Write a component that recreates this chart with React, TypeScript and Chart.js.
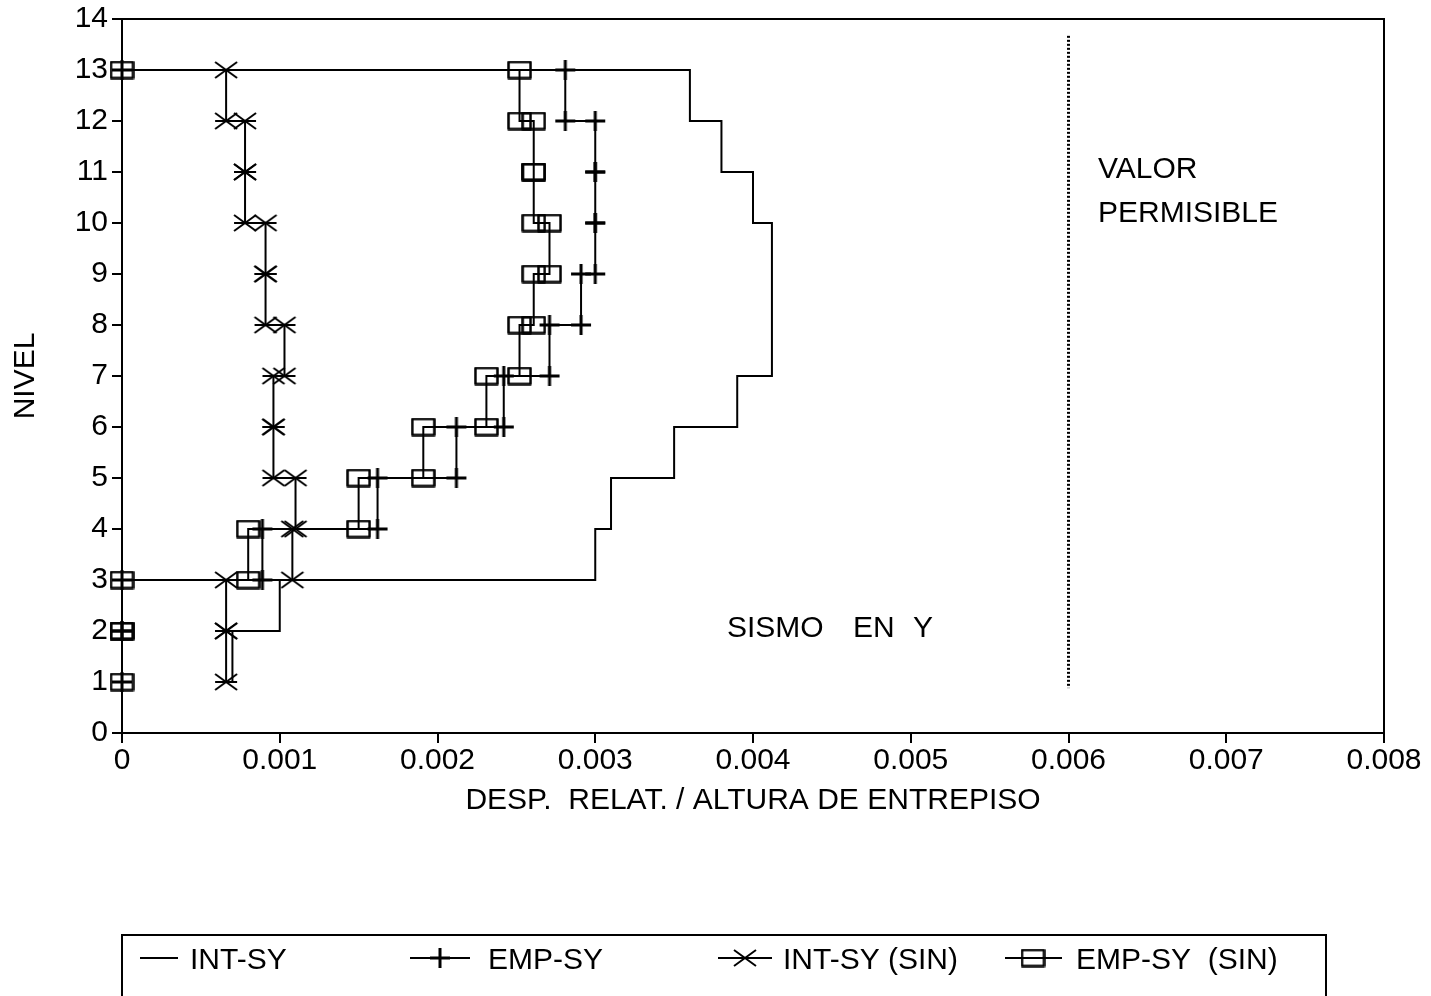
import React, { useEffect, useRef } from "react";
import { Chart, registerables } from "chart.js";

Chart.register(...registerables);

// Story top levels (each story spans from level to level - 1)
const storyLevels = [13, 12, 11, 10, 9, 8, 7, 6, 5, 4, 3, 2];

// Relative drift / story height, per story (top level listed in storyLevels)
const intSY = [0.0036, 0.0038, 0.004, 0.00412, 0.00412, 0.00412, 0.0039, 0.0035, 0.0031, 0.003, 0.001, 0.0007];
const empSY = [0.00281, 0.003, 0.003, 0.003, 0.00291, 0.00271, 0.00242, 0.00212, 0.00162, 0.00089, 0, 0];
const intSYSin = [0.00066, 0.00078, 0.00078, 0.00091, 0.00091, 0.00103, 0.00096, 0.00096, 0.0011, 0.00108, 0.00066, 0.00066];
const empSYSin = [0.00252, 0.00261, 0.00261, 0.00271, 0.00261, 0.00252, 0.00231, 0.00191, 0.0015, 0.0008, 0, 0];

const seriesNames = ["INT-SY", "EMP-SY", "INT-SY (SIN)", "EMP-SY  (SIN)"];

// Permissible value line
const permisibleX = [0.006, 0.006];
const permisibleY = [13.67, 0.88];

const xTickLabels = ["0", "0.001", "0.002", "0.003", "0.004", "0.005", "0.006", "0.007", "0.008"];
const yTickLabels = ["0", "1", "2", "3", "4", "5", "6", "7", "8", "9", "10", "11", "12", "13", "14"];

const xTitle = "DESP.  RELAT. / ALTURA DE ENTREPISO";
const yTitle = "NIVEL";

const FONT = "'Liberation Sans', Arial, Helvetica, sans-serif";

function stepPoints(drifts: number[], startAtZero: boolean) {
  const pts: { x: number; y: number }[] = [];
  if (startAtZero) pts.push({ x: 0, y: storyLevels[0] });
  drifts.forEach((d, i) => {
    pts.push({ x: d, y: storyLevels[i] });
    pts.push({ x: d, y: storyLevels[i] - 1 });
  });
  return pts;
}

function makeSquare() {
  const c = document.createElement("canvas");
  c.width = 25;
  c.height = 19;
  const g = c.getContext("2d")!;
  g.strokeStyle = "#000";
  g.lineWidth = 2.5;
  g.lineJoin = "round";
  g.strokeRect(1.5, 1.5, 22, 16);
  return c;
}

function makeStar() {
  const c = document.createElement("canvas");
  c.width = 26;
  c.height = 20;
  const g = c.getContext("2d")!;
  g.strokeStyle = "#000";
  g.lineWidth = 2;
  g.beginPath();
  g.moveTo(2, 2);
  g.lineTo(24, 18);
  g.moveTo(2, 18);
  g.lineTo(24, 2);
  g.moveTo(2, 10);
  g.lineTo(24, 10);
  g.stroke();
  return c;
}

function makePlus() {
  const c = document.createElement("canvas");
  c.width = 22;
  c.height = 22;
  const g = c.getContext("2d")!;
  g.strokeStyle = "#000";
  g.lineWidth = 3;
  g.beginPath();
  g.moveTo(11, 1);
  g.lineTo(11, 21);
  g.moveTo(1, 11);
  g.lineTo(21, 11);
  g.stroke();
  return c;
}

export default function App() {
  const ref = useRef<HTMLCanvasElement | null>(null);

  useEffect(() => {
    if (!ref.current) return;
    const square = makeSquare();
    const star = makeStar();
    const plus = makePlus();

    const decor = {
      id: "decor",
      afterDraw(chart: any) {
        const { ctx, chartArea } = chart;
        ctx.save();
        ctx.strokeStyle = "#000";
        ctx.lineWidth = 2;
        ctx.strokeRect(chartArea.left, chartArea.top, chartArea.right - chartArea.left, chartArea.bottom - chartArea.top);

        ctx.fillStyle = "#000";
        ctx.font = `30px ${FONT}`;
        ctx.textAlign = "left";
        ctx.textBaseline = "alphabetic";
        ctx.fillText("VALOR", 1098, 178);
        ctx.fillText("PERMISIBLE", 1098, 222);
        ctx.fillText("SISMO", 727, 637);
        ctx.fillText("EN", 853, 637);
        ctx.fillText("Y", 913, 637);

        // Legend box
        ctx.lineWidth = 2;
        ctx.strokeRect(122, 935, 1326 - 122, 120);
        const ly = 958;
        const items = [
          { x1: 140, x2: 178, m: null as any, mx: 0, tx: 190 },
          { x1: 410, x2: 470, m: plus, mx: 440, tx: 488 },
          { x1: 718, x2: 772, m: star, mx: 745, tx: 783 },
          { x1: 1005, x2: 1062, m: square, mx: 1033, tx: 1076 },
        ];
        items.forEach((it, i) => {
          ctx.lineWidth = 2;
          ctx.beginPath();
          ctx.moveTo(it.x1, ly);
          ctx.lineTo(it.x2, ly);
          ctx.stroke();
          if (it.m) ctx.drawImage(it.m, it.mx - it.m.width / 2, ly - it.m.height / 2);
          ctx.fillText(seriesNames[i], it.tx, ly + 11);
        });
        ctx.restore();
      },
    };

    const chart = new Chart(ref.current, {
      type: "line",
      data: {
        datasets: [
          {
            label: seriesNames[0],
            data: stepPoints(intSY, true),
            borderColor: "#000",
            borderWidth: 2,
            pointRadius: 0,
            fill: false,
            clip: 20,
          },
          {
            label: seriesNames[1],
            data: stepPoints(empSY, true),
            borderColor: "#000",
            borderWidth: 2,
            pointStyle: plus as any,
            pointRadius: 10,
            fill: false,
            clip: 20,
          },
          {
            label: seriesNames[2],
            data: stepPoints(intSYSin, false),
            borderColor: "#000",
            borderWidth: 2,
            pointStyle: star as any,
            pointRadius: 10,
            fill: false,
            clip: 20,
          },
          {
            label: seriesNames[3],
            data: stepPoints(empSYSin, true),
            borderColor: "#000",
            borderWidth: 2,
            pointStyle: square as any,
            pointRadius: 10,
            fill: false,
            clip: 20,
          },
          {
            label: "VALOR PERMISIBLE",
            data: permisibleX.map((x, i) => ({ x, y: permisibleY[i] })),
            borderColor: "#000",
            borderWidth: 3,
            borderDash: [2, 2],
            pointRadius: 0,
            fill: false,
          },
        ],
      },
      options: {
        animation: false,
        responsive: false,
        devicePixelRatio: 1,
        events: [],
        layout: { padding: { left: 0, top: 15, right: 47, bottom: 173 } },
        plugins: { legend: { display: false }, tooltip: { enabled: false } },
        scales: {
          x: {
            type: "linear",
            min: 0,
            max: 0.008,
            afterFit: (s: any) => {
              s.height = 90;
            },
            ticks: {
              stepSize: 0.001,
              color: "#000",
              padding: 3,
              maxRotation: 0,
              font: { family: FONT, size: 30, lineHeight: 1 },
              callback: (_v: any, i: number) => xTickLabels[i],
            },
            grid: { drawOnChartArea: false, drawTicks: true, tickLength: 10, color: "#000", lineWidth: 2 },
            border: { color: "#000", width: 2 },
            title: {
              display: true,
              text: xTitle,
              color: "#000",
              font: { family: FONT, size: 30, lineHeight: 1 },
              padding: { top: 0, bottom: 7 },
            },
          },
          y: {
            type: "linear",
            min: 0,
            max: 14,
            afterFit: (s: any) => {
              s.width = 122;
            },
            ticks: {
              stepSize: 1,
              color: "#000",
              padding: 4,
              font: { family: FONT, size: 30, lineHeight: 1 },
              callback: (v: any) => yTickLabels[v],
            },
            grid: { drawOnChartArea: false, drawTicks: true, tickLength: 10, color: "#000", lineWidth: 2 },
            border: { color: "#000", width: 2 },
            title: {
              display: true,
              text: yTitle,
              color: "#000",
              font: { family: FONT, size: 30, lineHeight: 1 },
              padding: { top: 11, bottom: 0 },
            },
          },
        },
      },
      plugins: [decor],
    } as any);

    return () => chart.destroy();
  }, []);

  return (
    <div style={{ position: "absolute", left: 0, top: 0, width: 1431, height: 996, background: "#fff" }}>
      <canvas ref={ref} width={1431} height={996} style={{ display: "block" }} />
    </div>
  );
}
